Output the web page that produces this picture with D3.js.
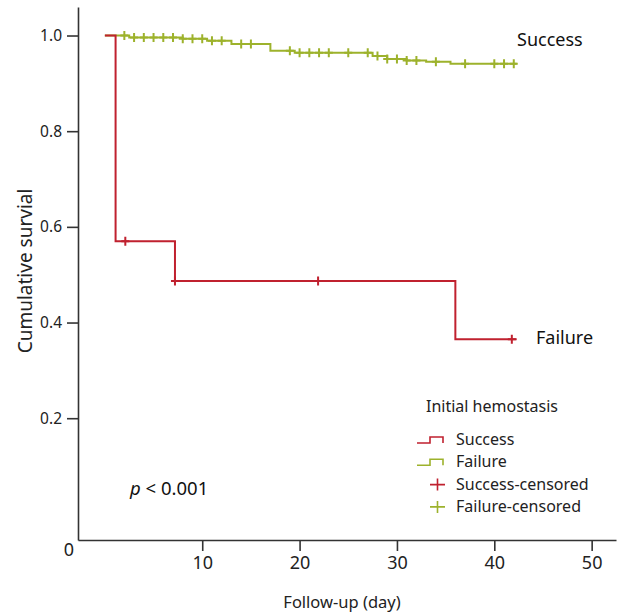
<!DOCTYPE html>
<html>
<head>
<meta charset="utf-8">
<script src="https://cdn.jsdelivr.net/npm/d3@7"></script>
<style>
  body { margin: 0; background: #fff; }
  svg { font-family: "Noto Sans", "Open Sans", sans-serif; }
  .axis path, .axis line { stroke: #333; stroke-width: 1.6px; }
</style>
</head>
<body>
<div id="chart"></div>
<script>
// Kaplan-Meier steps: [day, survival after event]
var successEvents = [[0, 1.0], [2.5, 0.996], [8, 0.993], [10.5, 0.989], [13, 0.982], [17, 0.968],
    [19.5, 0.964], [27.5, 0.957], [29, 0.951], [31, 0.948], [33, 0.945], [35.5, 0.941]];
var successEnd = 42.3;
var successCensored = [2, 3, 4, 5, 6, 7, 8, 9, 10, 11, 12, 14, 15, 19, 20, 21, 22, 23, 25, 27,
    28, 29, 30, 31, 32, 34, 37, 40, 41, 42];

var failureEvents = [[0, 1.0], [1.1, 0.57], [7.2, 0.487], [36, 0.365]];
var failureEnd = 42.3;
var failureCensored = [2.1, 7.2, 21.9, 41.8];

var xTicks = [10, 20, 30, 40, 50];
var yTicks = [0.2, 0.4, 0.6, 0.8, 1.0];
var legendItems = ["Success", "Failure", "Success-censored", "Failure-censored"];

var red = "#c0212f", green = "#9db22c";

var width = 620, height = 614;

var x = d3.scaleLinear().domain([-2.76, 52.5]).range([78, 616]);
var y = d3.scaleLinear().domain([-0.0546, 1.0596]).range([540, 7]);

var svg = d3.select("#chart").append("svg")
    .attr("width", width)
    .attr("height", height);

function survAt(events, t) {
    var s = 1;
    events.forEach(function (e) { if (e[0] <= t) s = e[1]; });
    return s;
}

function stepPoints(events, end) {
    var pts = [];
    events.forEach(function (e, i) {
        if (i > 0) pts.push([e[0], events[i - 1][1]]);
        pts.push([e[0], e[1]]);
    });
    pts.push([end, events[events.length - 1][1]]);
    return pts;
}

var line = d3.line()
    .x(function (d) { return x(d[0]); })
    .y(function (d) { return y(d[1]); });

function drawCurve(events, end, censored, color) {
    svg.append("path")
        .datum(stepPoints(events, end))
        .attr("fill", "none")
        .attr("stroke", color)
        .attr("stroke-width", 2)
        .attr("d", line);

    var g = svg.append("g");
    g.selectAll("path.cens")
        .data(censored)
        .enter().append("path")
        .attr("class", "cens")
        .attr("stroke", color)
        .attr("stroke-width", 2)
        .attr("d", function (d) {
            var cx = x(d), cy = y(survAt(events, d));
            return "M" + (cx - 4) + "," + cy + "H" + (cx + 4) + "M" + cx + "," + (cy - 4.5) + "V" + (cy + 4.5);
        });
}

drawCurve(successEvents, successEnd, successCensored, green);
drawCurve(failureEvents, failureEnd, failureCensored, red);

// axes
svg.append("g")
    .attr("class", "axis")
    .attr("transform", "translate(" + x.range()[0] + ",0)")
    .call(d3.axisLeft(y).tickValues(yTicks).tickSize(11).tickSizeOuter(0).tickPadding(5)
        .tickFormat(d3.format(".1f")))
    .attr("font-family", "Noto Sans, sans-serif")
    .attr("font-size", 15.5);

svg.append("g")
    .attr("class", "axis")
    .attr("transform", "translate(0," + y.range()[0] + ")")
    .call(d3.axisBottom(x).tickValues(xTicks).tickSize(11).tickSizeOuter(0).tickPadding(5))
    .attr("font-family", "Noto Sans, sans-serif")
    .attr("font-size", 18);

svg.selectAll(".axis text").attr("fill", "#222");

svg.append("text")
    .attr("x", 69).attr("y", 555.5)
    .attr("text-anchor", "middle")
    .style("font-size", "18px").style("fill", "#222")
    .text("0");

// axis titles
svg.append("text")
    .attr("transform", "translate(32,271) rotate(-90)")
    .attr("text-anchor", "middle")
    .style("font-size", "19px").style("fill", "#222")
    .text("Cumulative survial");

svg.append("text")
    .attr("x", 342).attr("y", 608)
    .attr("text-anchor", "middle")
    .style("font-size", "16.5px").style("fill", "#222")
    .text("Follow-up (day)");

// curve labels
svg.append("text").attr("x", 517).attr("y", 46)
    .style("font-size", "18px").style("fill", "#111").text("Success");
svg.append("text").attr("x", 536).attr("y", 344)
    .style("font-size", "18px").style("fill", "#111").text("Failure");

var pt = svg.append("text").attr("x", 130).attr("y", 495)
    .style("font-size", "18.5px").style("fill", "#111");
pt.append("tspan").style("font-style", "italic").text("p");
pt.append("tspan").text(" < 0.001");

// legend
var lg = svg.append("g");
lg.append("text").attr("x", 426).attr("y", 412)
    .style("font-size", "16px").style("fill", "#222").text("Initial hemostasis");

var legendColors = [red, green, red, green];
legendItems.forEach(function (name, i) {
    var by = 445 + i * 22.3;
    var c = legendColors[i];
    if (i < 2) {
        lg.append("path")
            .attr("fill", "none").attr("stroke", c).attr("stroke-width", 1.6)
            .attr("d", "M417," + (by - 2) + "H430V" + (by - 8) + "H443V" + (by - 2));
    } else {
        lg.append("path")
            .attr("stroke", c).attr("stroke-width", 1.6)
            .attr("d", "M430," + (by - 5) + "H445M437.5," + (by - 11) + "V" + (by + 1));
    }
    lg.append("text").attr("x", 456).attr("y", by)
        .style("font-size", "16px").style("fill", "#222").text(name);
});
</script>
</body>
</html>
